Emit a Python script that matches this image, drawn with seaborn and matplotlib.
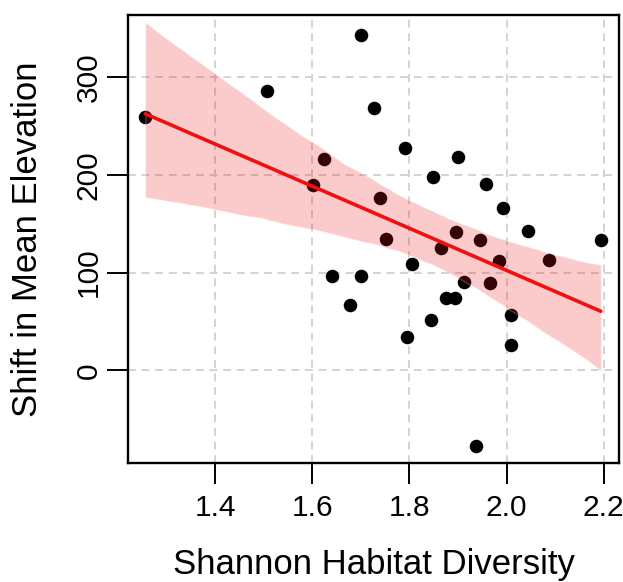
import numpy as np
import pandas as pd
import seaborn as sns
import matplotlib
matplotlib.use("Agg")
import matplotlib.pyplot as plt

# Data
diversity = [1.256, 1.507, 1.701, 1.726, 1.602, 1.625, 1.790, 1.901, 1.849, 1.957,
             1.992, 2.045, 1.895, 1.946, 1.740, 1.751, 1.864, 1.984, 2.087, 2.194,
             1.641, 1.701, 1.806, 1.913, 1.965, 1.876, 1.893, 1.678, 1.845, 1.796,
             2.010, 2.010, 1.938]
elev_shift = [260, 286, 344, 269, 190, 216, 228, 219, 198, 191,
              166, 143, 142, 133, 177, 134, 125, 112, 113, 133,
              97, 97, 109, 90, 89, 74, 74, 67, 52, 34,
              57, 26, -78]
x_ticks = [1.4, 1.6, 1.8, 2.0, 2.2]
y_ticks = [0, 100, 200, 300]

df = pd.DataFrame({"diversity": diversity, "shift": elev_shift})

sns.set_style("ticks")
plt.rcParams["font.family"] = ["Liberation Sans", "DejaVu Sans"]
plt.rcParams["text.color"] = "black"
plt.rcParams["axes.labelcolor"] = "black"
plt.rcParams["xtick.color"] = "black"
plt.rcParams["ytick.color"] = "black"

fig = plt.figure(figsize=(6.23, 5.82), dpi=100)
ax = fig.add_axes([128/623, 1 - 463/582, (619-128)/623, (463-15)/582])

sns.regplot(data=df, x="diversity", y="shift", ax=ax, ci=95, seed=3,
            scatter_kws=dict(color="black", s=95, linewidths=0, alpha=1, zorder=2),
            line_kws=dict(color="#EE1111", lw=2.6, zorder=4))
for c in ax.collections[1:]:
    c.set_alpha(0.22)
    c.set_zorder(3)

ax.set_xlim(1.2205, 2.2315)
ax.set_ylim(-95, 364)
ax.set_xticks(x_ticks)
ax.set_xticklabels([f"{v:.1f}" for v in x_ticks])
ax.set_yticks(y_ticks)
ax.set_yticklabels([str(v) for v in y_ticks], rotation=90, va="center")

ax.grid(True, ls=(0, (4, 3)), color="#D3D3D3", lw=1.4)
ax.set_axisbelow(True)

for s in ax.spines.values():
    s.set_visible(True)
    s.set_color("black")
    s.set_linewidth(1.7)

ax.tick_params(axis="both", length=15, width=1.4, color="black",
               labelcolor="black", labelsize=21.5)
ax.tick_params(axis="x", pad=7)
ax.tick_params(axis="y", pad=3)

ax.set_xlabel("Shannon Habitat Diversity", fontsize=25, labelpad=19, color="black")
ax.set_ylabel("Shift in Mean Elevation", fontsize=25, labelpad=22, color="black")

fig.savefig("out.png", dpi=100)
